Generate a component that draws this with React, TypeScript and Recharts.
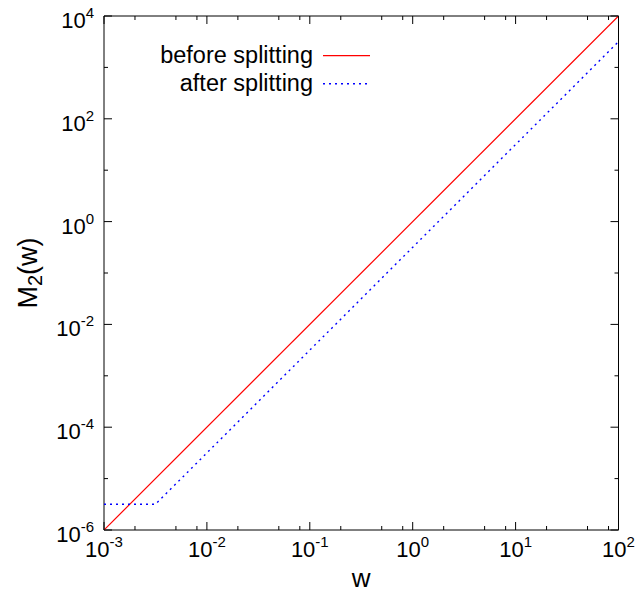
import React from 'react';
import { LineChart, Line, XAxis, YAxis, ReferenceArea } from 'recharts';

// ---- data ----
const redW = [0.001, 100];
const redM = [1e-6, 1e4];
const blueW = [0.001, 0.00316, 100];
const blueM = [3.16e-6, 3.16e-6, 3162];

const seriesNames = ['before splitting', 'after splitting'];
const seriesColors = ['#ff0000', '#0000ff'];

const xMajor = [0.001, 0.01, 0.1, 1, 10, 100];
const xMajorLabels = ['-3', '-2', '-1', '0', '1', '2'];
const xMinor = [0.002, 0.005, 0.008, 0.02, 0.05, 0.08, 0.2, 0.5, 0.8, 2, 5, 8, 20, 50, 80];
const yMajor = [1e-6, 1e-4, 1e-2, 1, 1e2, 1e4];
const yMajorLabels = ['-6', '-4', '-2', '0', '2', '4'];
const yMinor = [1e-5, 1e-3, 1e-1, 10, 1e3];

const xTitle = 'w';

// ---- layout (page coordinates; body margin removed) ----
const W = 636;
const H = 595;
const PL = 104;
const PR = 618.5;
const PT = 16;
const PB = 530;
const FONT = '"Liberation Sans", Arial, Helvetica, sans-serif';

const redData = redW.map((w, i) => ({ w, m: redM[i] }));
const blueData = blueW.map((w, i) => ({ w, m: blueM[i] }));

const findMajor = (arr: number[], v: number) =>
  arr.findIndex((m) => Math.abs(m - v) / m < 1e-6);

const XTick = (props: any) => {
  const { x, payload } = props;
  const idx = findMajor(xMajor, payload.value);
  const len = idx >= 0 ? 8 : 4;
  return (
    <g>
      <line x1={x} x2={x} y1={PB} y2={PB - len} stroke="#000" strokeWidth={1} />
      <line x1={x} x2={x} y1={PT} y2={PT + len} stroke="#000" strokeWidth={1} />
      {idx >= 0 && (
        <text x={x} y={PB + 27} textAnchor="middle" fontFamily={FONT} fontSize={22} fill="#000">
          <tspan>10</tspan>
          <tspan dy={-10} fontSize={15}>{xMajorLabels[idx]}</tspan>
        </text>
      )}
    </g>
  );
};

const YTick = (props: any) => {
  const { y, payload } = props;
  const idx = findMajor(yMajor, payload.value);
  const len = idx >= 0 ? 8 : 4;
  return (
    <g>
      <line x1={PL} x2={PL + len} y1={y} y2={y} stroke="#000" strokeWidth={1} />
      <line x1={PR} x2={PR - len} y1={y} y2={y} stroke="#000" strokeWidth={1} />
      {idx >= 0 && (
        <text x={PL - 10} y={y + 12} textAnchor="end" fontFamily={FONT} fontSize={22} fill="#000">
          <tspan>10</tspan>
          <tspan dy={-10} fontSize={15}>{yMajorLabels[idx]}</tspan>
        </text>
      )}
    </g>
  );
};

const xTicks = [...xMajor, ...xMinor].sort((a, b) => a - b);
const yTicks = [...yMajor, ...yMinor].sort((a, b) => a - b);

export default function App() {
  return (
    <div style={{ position: 'relative', width: W, height: H }}>
      <style>{`html,body{margin:0;padding:0;overflow:hidden;}`}</style>
      <LineChart
        width={W}
        height={H}
        style={{ overflow: 'visible' }}
        margin={{ top: PT, right: W - PR, left: PL - 80, bottom: H - PB - 50 }}
      >
        <XAxis
          dataKey="w"
          type="number"
          scale="log"
          domain={[0.001, 100]}
          allowDataOverflow
          ticks={xTicks}
          interval={0}
          tick={XTick}
          tickLine={false}
          axisLine={false}
          height={50}
        />
        <YAxis
          dataKey="m"
          type="number"
          scale="log"
          domain={[1e-6, 1e4]}
          allowDataOverflow
          ticks={yTicks}
          interval={0}
          tick={YTick}
          tickLine={false}
          axisLine={false}
          width={80}
        />
        <ReferenceArea x1={0.001} x2={100} y1={1e-6} y2={1e4} fill="none" stroke="#000" strokeWidth={1} fillOpacity={0} />
        <Line
          data={redData}
          dataKey="m"
          type="linear"
          stroke={seriesColors[0]}
          strokeWidth={1.2}
          dot={false}
          activeDot={false}
          isAnimationActive={false}
        />
        <Line
          data={blueData}
          dataKey="m"
          type="linear"
          stroke={seriesColors[1]}
          strokeWidth={1.4}
          strokeDasharray="2 4"
          dot={false}
          activeDot={false}
          isAnimationActive={false}
        />
      </LineChart>
      <svg
        width={W}
        height={H}
        style={{ position: 'absolute', left: 0, top: 0, pointerEvents: 'none', overflow: 'visible' }}
      >
        {seriesNames.map((name, i) => (
          <g key={name}>
            <text x={313} y={63 + i * 28} textAnchor="end" fontFamily={FONT} fontSize={23.5} fill="#000">
              {name}
            </text>
            <line
              x1={323}
              x2={370}
              y1={55.7 + i * 28}
              y2={55.7 + i * 28}
              stroke={seriesColors[i]}
              strokeWidth={i === 1 ? 1.4 : 1.2}
              strokeDasharray={i === 1 ? '2 4' : undefined}
            />
          </g>
        ))}
        <text x={(PL + PR) / 2} y={587} textAnchor="middle" fontFamily={FONT} fontSize={26} fill="#000">
          {xTitle}
        </text>
        <text
          x={37}
          y={273}
          transform="rotate(-90 37 273)"
          textAnchor="middle"
          fontFamily={FONT}
          fontSize={27}
          fill="#000"
        >
          <tspan>M</tspan>
          <tspan dy={5} fontSize={20}>2</tspan>
          <tspan dy={-5}>(w)</tspan>
        </text>
      </svg>
    </div>
  );
}
